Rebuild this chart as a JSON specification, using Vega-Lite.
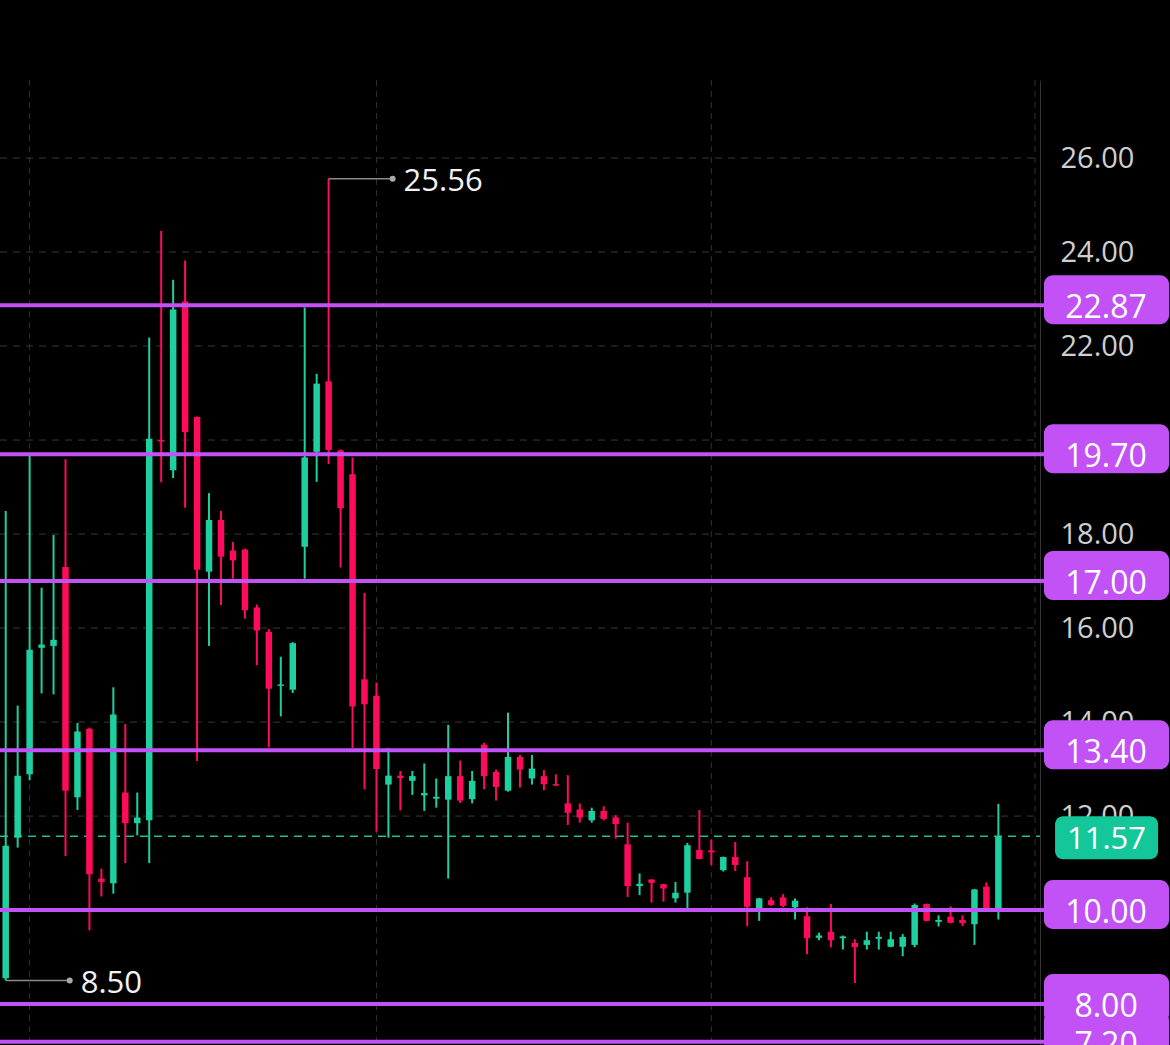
{
  "$schema": "https://vega.github.io/schema/vega-lite/v6.json",
  "width": 1040,
  "height": 965,
  "autosize": {"type": "none"},
  "padding": {"top": 80, "left": 0, "right": 130, "bottom": 0},
  "background": "#000000",
  "config": {"view": {"stroke": null}, "font": "Open Sans"},
  "datasets": {
    "candles": [
      {"i":0,"o":8.55,"h":18.49,"l":8.50,"c":11.37},
      {"i":1,"o":11.54,"h":14.35,"l":11.33,"c":12.86},
      {"i":2,"o":12.89,"h":19.70,"l":12.76,"c":15.54},
      {"i":3,"o":15.58,"h":16.86,"l":14.61,"c":15.65},
      {"i":4,"o":15.62,"h":17.98,"l":14.59,"c":15.75},
      {"i":5,"o":17.30,"h":19.59,"l":11.15,"c":12.54},
      {"i":6,"o":12.40,"h":13.98,"l":12.13,"c":13.80},
      {"i":7,"o":13.86,"h":13.88,"l":9.57,"c":10.76},
      {"i":8,"o":10.67,"h":10.88,"l":10.29,"c":10.60},
      {"i":9,"o":10.57,"h":14.74,"l":10.35,"c":14.16},
      {"i":10,"o":12.50,"h":13.96,"l":11.00,"c":11.85},
      {"i":11,"o":11.85,"h":12.50,"l":11.59,"c":11.97},
      {"i":12,"o":11.91,"h":22.18,"l":11.00,"c":20.03},
      {"i":13,"o":20.00,"h":24.45,"l":19.10,"c":19.97},
      {"i":14,"o":19.36,"h":23.41,"l":19.19,"c":22.78},
      {"i":15,"o":22.95,"h":23.82,"l":18.56,"c":20.17},
      {"i":16,"o":20.49,"h":20.50,"l":13.17,"c":17.24},
      {"i":17,"o":17.20,"h":18.87,"l":15.62,"c":18.30},
      {"i":18,"o":18.30,"h":18.49,"l":16.49,"c":17.52},
      {"i":19,"o":17.65,"h":17.83,"l":17.05,"c":17.44},
      {"i":20,"o":17.67,"h":17.69,"l":16.20,"c":16.38},
      {"i":21,"o":16.44,"h":16.50,"l":15.21,"c":15.95},
      {"i":22,"o":15.92,"h":15.98,"l":13.46,"c":14.71},
      {"i":23,"o":14.77,"h":15.39,"l":14.12,"c":14.80},
      {"i":24,"o":14.69,"h":15.70,"l":14.62,"c":15.68},
      {"i":25,"o":17.73,"h":22.82,"l":17.05,"c":19.63},
      {"i":26,"o":19.75,"h":21.41,"l":19.11,"c":21.20},
      {"i":27,"o":21.25,"h":25.56,"l":19.49,"c":19.79},
      {"i":28,"o":19.78,"h":19.80,"l":17.29,"c":18.55},
      {"i":29,"o":19.27,"h":19.63,"l":13.45,"c":14.33},
      {"i":30,"o":14.91,"h":16.75,"l":12.57,"c":14.38},
      {"i":31,"o":14.56,"h":14.84,"l":11.67,"c":13.00},
      {"i":32,"o":12.67,"h":13.45,"l":11.54,"c":12.86},
      {"i":33,"o":12.86,"h":12.96,"l":12.12,"c":12.81},
      {"i":34,"o":12.75,"h":12.96,"l":12.45,"c":12.85},
      {"i":35,"o":12.44,"h":13.12,"l":12.11,"c":12.49},
      {"i":36,"o":12.37,"h":12.80,"l":12.18,"c":12.41},
      {"i":37,"o":12.35,"h":13.94,"l":10.67,"c":12.85},
      {"i":38,"o":12.85,"h":13.18,"l":12.28,"c":12.33},
      {"i":39,"o":12.36,"h":12.96,"l":12.27,"c":12.75},
      {"i":40,"o":13.52,"h":13.56,"l":12.57,"c":12.85},
      {"i":41,"o":12.94,"h":12.99,"l":12.33,"c":12.62},
      {"i":42,"o":12.54,"h":14.20,"l":12.52,"c":13.26},
      {"i":43,"o":13.26,"h":13.30,"l":12.61,"c":12.99},
      {"i":44,"o":12.80,"h":13.30,"l":12.67,"c":13.01},
      {"i":45,"o":12.85,"h":12.98,"l":12.55,"c":12.68},
      {"i":46,"o":12.68,"h":12.89,"l":12.64,"c":12.65},
      {"i":47,"o":12.27,"h":12.87,"l":11.81,"c":12.07},
      {"i":48,"o":12.14,"h":12.27,"l":11.86,"c":11.97},
      {"i":49,"o":11.91,"h":12.18,"l":11.86,"c":12.11},
      {"i":50,"o":12.11,"h":12.21,"l":11.91,"c":11.94},
      {"i":51,"o":11.97,"h":12.02,"l":11.52,"c":11.83},
      {"i":52,"o":11.40,"h":11.86,"l":10.28,"c":10.51},
      {"i":53,"o":10.51,"h":10.78,"l":10.32,"c":10.56},
      {"i":54,"o":10.65,"h":10.66,"l":10.16,"c":10.58},
      {"i":55,"o":10.55,"h":10.56,"l":10.18,"c":10.46},
      {"i":56,"o":10.25,"h":10.60,"l":10.16,"c":10.37},
      {"i":57,"o":10.37,"h":11.43,"l":10.00,"c":11.38},
      {"i":58,"o":11.28,"h":12.13,"l":11.08,"c":11.09},
      {"i":59,"o":11.27,"h":11.50,"l":10.96,"c":11.23},
      {"i":60,"o":10.85,"h":11.14,"l":10.82,"c":11.13},
      {"i":61,"o":11.13,"h":11.45,"l":10.83,"c":10.96},
      {"i":62,"o":10.70,"h":11.04,"l":9.66,"c":10.07},
      {"i":63,"o":10.01,"h":10.26,"l":9.77,"c":10.25},
      {"i":64,"o":10.21,"h":10.27,"l":10.09,"c":10.11},
      {"i":65,"o":10.27,"h":10.34,"l":10.06,"c":10.09},
      {"i":66,"o":10.06,"h":10.25,"l":9.80,"c":10.20},
      {"i":67,"o":9.87,"h":10.06,"l":9.06,"c":9.40},
      {"i":68,"o":9.41,"h":9.52,"l":9.36,"c":9.46},
      {"i":69,"o":9.54,"h":10.13,"l":9.21,"c":9.36},
      {"i":70,"o":9.40,"h":9.46,"l":9.16,"c":9.44},
      {"i":71,"o":9.30,"h":9.38,"l":8.45,"c":9.21},
      {"i":72,"o":9.26,"h":9.54,"l":9.16,"c":9.36},
      {"i":73,"o":9.39,"h":9.54,"l":9.16,"c":9.43},
      {"i":74,"o":9.22,"h":9.54,"l":9.21,"c":9.38},
      {"i":75,"o":9.22,"h":9.49,"l":9.02,"c":9.43},
      {"i":76,"o":9.26,"h":10.14,"l":9.21,"c":10.11},
      {"i":77,"o":10.13,"h":10.14,"l":9.76,"c":9.77},
      {"i":78,"o":9.75,"h":9.89,"l":9.65,"c":9.79},
      {"i":79,"o":9.86,"h":10.08,"l":9.72,"c":9.73},
      {"i":80,"o":9.79,"h":9.89,"l":9.66,"c":9.72},
      {"i":81,"o":9.70,"h":10.45,"l":9.26,"c":10.44},
      {"i":82,"o":10.50,"h":10.59,"l":10.00,"c":10.01},
      {"i":83,"o":9.99,"h":12.26,"l":9.80,"c":11.57}
    ],
    "levels": [
      {"lv":22.87},{"lv":19.70},{"lv":17.00},{"lv":13.40},{"lv":10.00},{"lv":8.00},{"lv":7.20}
    ],
    "price": [{"p":11.57}],
    "extremes": [{"i":27,"v":25.56},{"i":0,"v":8.50}],
    "vgrid": [{"gx":2},{"gx":31},{"gx":59},{"gx":86.06}],
    "hgrid": [{"gy":8},{"gy":10},{"gy":12},{"gy":14},{"gy":16},{"gy":18},{"gy":20},{"gy":22},{"gy":24},{"gy":26}]
  },
  "layer": [
    {
      "data": {"name": "vgrid"},
      "mark": {"type": "rule", "color": "#303030", "strokeWidth": 1, "strokeDash": [6, 5]},
      "encoding": {
        "x": {"field": "gx", "type": "quantitative", "scale": {"domain": [-0.477, 86.48], "nice": false, "zero": false, "padding": 0}, "axis": null}
      }
    },
    {
      "data": {"name": "hgrid"},
      "mark": {"type": "rule", "color": "#383838", "strokeWidth": 1, "strokeDash": [7, 6]},
      "encoding": {
        "y": {"field": "gy", "type": "quantitative", "scale": {"domain": [7.13, 27.66], "nice": false, "zero": false, "padding": 0},
          "axis": {"orient": "right", "values": [8, 10, 12, 14, 16, 18, 20, 22, 24, 26], "format": ".2f", "title": null,
            "labelFontSize": 29, "labelColor": "#cfcfcf", "labelFont": "Open Sans", "labelPadding": 20, "labelAlign": "left", "labelBaseline": "middle",
            "ticks": false, "grid": false, "domain": true, "domainColor": "#333333", "domainWidth": 1, "labelOverlap": false, "zindex": 0}},
        "x": {"datum": -0.477, "type": "quantitative", "scale": {"domain": [-0.477, 86.48], "nice": false, "zero": false, "padding": 0}, "axis": null},
        "x2": {"datum": 86.1}
      }
    },
    {
      "data": {"name": "price"},
      "mark": {"type": "rule", "color": "#1bbf95", "strokeWidth": 1.5, "strokeDash": [8, 6]},
      "encoding": {
        "y": {"field": "p", "type": "quantitative"},
        "x": {"datum": -0.477, "type": "quantitative", "axis": null},
        "x2": {"datum": 86.48}
      }
    },
    {
      "data": {"name": "candles"},
      "mark": {"type": "rule", "strokeWidth": 2},
      "encoding": {
        "x": {"field": "i", "type": "quantitative", "axis": null},
        "y": {"field": "l", "type": "quantitative"},
        "y2": {"field": "h"},
        "color": {"condition": {"test": "datum.c >= datum.o", "value": "#1ecf9f"}, "value": "#ff0b5c"}
      }
    },
    {
      "data": {"name": "candles"},
      "mark": {"type": "bar", "size": 6.5},
      "encoding": {
        "x": {"field": "i", "type": "quantitative", "axis": null},
        "y": {"field": "o", "type": "quantitative"},
        "y2": {"field": "c"},
        "color": {"condition": {"test": "datum.c >= datum.o", "value": "#1ecf9f"}, "value": "#ff0b5c"}
      }
    },
    {
      "data": {"name": "levels"},
      "mark": {"type": "rule", "color": "#c252f5", "strokeWidth": 4},
      "encoding": {
        "y": {"field": "lv", "type": "quantitative"},
        "x": {"datum": -0.477, "type": "quantitative", "axis": null},
        "x2": {"datum": 87.0}
      }
    },
    {
      "data": {"name": "extremes"},
      "mark": {"type": "rule", "color": "#8a8a8a", "strokeWidth": 1.5, "x2Offset": 64},
      "encoding": {
        "x": {"field": "i", "type": "quantitative", "axis": null},
        "x2": {"field": "i"},
        "y": {"field": "v", "type": "quantitative"}
      }
    },
    {
      "data": {"name": "extremes"},
      "mark": {"type": "point", "filled": true, "color": "#a8a8a8", "size": 36, "opacity": 1, "xOffset": 64},
      "encoding": {
        "x": {"field": "i", "type": "quantitative", "axis": null},
        "y": {"field": "v", "type": "quantitative"}
      }
    },
    {
      "data": {"name": "extremes"},
      "mark": {"type": "text", "color": "#f2f2f2", "fontSize": 31, "font": "Open Sans", "align": "left", "baseline": "middle", "xOffset": 75, "dy": 3},
      "encoding": {
        "x": {"field": "i", "type": "quantitative", "axis": null},
        "y": {"field": "v", "type": "quantitative"},
        "text": {"field": "v", "type": "quantitative", "format": ".2f"}
      }
    },
    {
      "data": {"name": "levels"},
      "mark": {"type": "rect", "color": "#c252f5", "cornerRadius": 9, "yOffset": -30, "y2Offset": 19},
      "encoding": {
        "y": {"field": "lv", "type": "quantitative"},
        "y2": {"field": "lv"},
        "x": {"datum": 86.81, "type": "quantitative", "axis": null},
        "x2": {"datum": 97.27}
      }
    },
    {
      "data": {"name": "levels"},
      "mark": {"type": "text", "color": "#ffffff", "fontSize": 32, "font": "Open Sans", "align": "center", "baseline": "middle", "dy": 3},
      "encoding": {
        "y": {"field": "lv", "type": "quantitative"},
        "x": {"datum": 92.0, "type": "quantitative", "axis": null},
        "text": {"field": "lv", "type": "quantitative", "format": ".2f"}
      }
    },
    {
      "data": {"name": "price"},
      "mark": {"type": "rect", "color": "#14c79a", "cornerRadius": 8, "yOffset": -20, "y2Offset": 23},
      "encoding": {
        "y": {"field": "p", "type": "quantitative"},
        "y2": {"field": "p"},
        "x": {"datum": 87.74, "type": "quantitative", "axis": null},
        "x2": {"datum": 96.35}
      }
    },
    {
      "data": {"name": "price"},
      "mark": {"type": "text", "color": "#ffffff", "fontSize": 31, "font": "Open Sans", "align": "center", "baseline": "middle", "dy": 4},
      "encoding": {
        "y": {"field": "p", "type": "quantitative"},
        "x": {"datum": 92.04, "type": "quantitative", "axis": null},
        "text": {"field": "p", "type": "quantitative", "format": ".2f"}
      }
    }
  ]
}
